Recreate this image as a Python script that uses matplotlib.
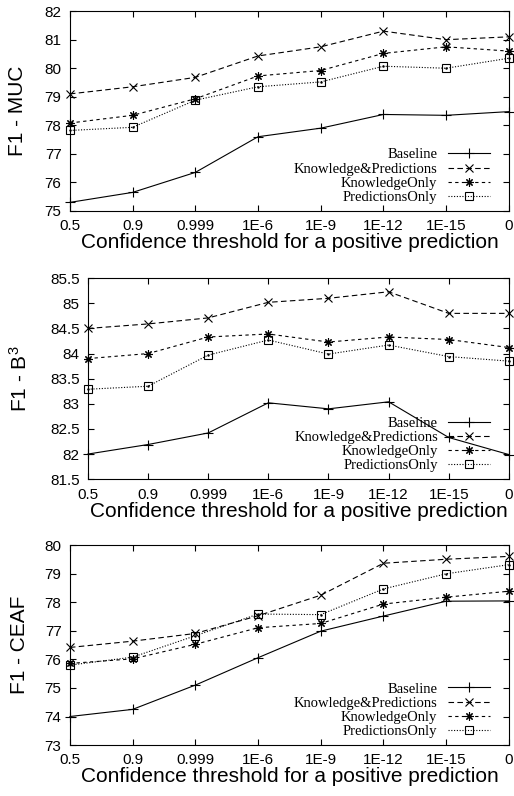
import numpy as np
import matplotlib
matplotlib.use("Agg")
import matplotlib.pyplot as plt
from matplotlib.ticker import FuncFormatter

plt.rcParams['font.family'] = 'Liberation Sans'
plt.rcParams['mathtext.default'] = 'regular'

thresholds = ['0.5', '0.9', '0.999', '1E-6', '1E-9', '1E-12', '1E-15', '0']
series_names = ['Baseline', 'Knowledge&Predictions', 'KnowledgeOnly', 'PredictionsOnly']

# MUC
muc_baseline = [75.3, 75.65, 76.35, 77.6, 77.9, 78.38, 78.35, 78.48]
muc_knowpred = [79.1, 79.35, 79.68, 80.43, 80.75, 81.3, 81.0, 81.1]
muc_knowonly = [78.08, 78.35, 78.93, 79.73, 79.92, 80.52, 80.75, 80.6]
muc_predonly = [77.82, 77.93, 78.88, 79.35, 79.52, 80.07, 80.0, 80.35]

# B3
b3_baseline = [82.0, 82.19, 82.42, 83.02, 82.9, 83.04, 82.33, 81.99]
b3_knowpred = [84.5, 84.59, 84.71, 85.02, 85.1, 85.23, 84.8, 84.8]
b3_knowonly = [83.9, 84.0, 84.33, 84.39, 84.23, 84.33, 84.28, 84.12]
b3_predonly = [83.29, 83.35, 83.97, 84.27, 83.99, 84.17, 83.94, 83.85]

# CEAF
ceaf_baseline = [74.0, 74.25, 75.1, 76.06, 76.99, 77.52, 78.04, 78.05]
ceaf_knowpred = [76.42, 76.64, 76.91, 77.53, 78.25, 79.37, 79.51, 79.61]
ceaf_knowonly = [75.86, 76.02, 76.53, 77.11, 77.26, 77.94, 78.18, 78.39]
ceaf_predonly = [75.8, 76.08, 76.83, 77.59, 77.57, 78.47, 79.0, 79.32]

panels = [
    ('F1 - MUC', [muc_baseline, muc_knowpred, muc_knowonly, muc_predonly],
     (75, 82), np.arange(75, 82.01, 1), [0.136, 0.735, 0.854, 0.251], -0.098),
    ('F1 - B$^3$', [b3_baseline, b3_knowpred, b3_knowonly, b3_predonly],
     (81.5, 85.5), np.arange(81.5, 85.51, 0.5), [0.171, 0.398, 0.819, 0.2525], -0.135),
    ('F1 - CEAF', [ceaf_baseline, ceaf_knowpred, ceaf_knowonly, ceaf_predonly],
     (73, 80), np.arange(73, 80.01, 1), [0.136, 0.064, 0.854, 0.251], -0.093),
]

styles = [
    dict(linestyle='-', marker='+', markersize=7),
    dict(linestyle=(0, (5, 3)), marker='x', markersize=6),
    dict(linestyle=(0, (3, 3)), marker=(8, 2, 0), markersize=6),
    dict(linestyle=(0, (1, 1.5)), marker='s', markersize=6, markerfacecolor='none'),
]

fig = plt.figure(figsize=(5.14, 7.96), dpi=100)
x = np.arange(len(thresholds))

for ylabel, data, ylim, yticks, rect, labx in panels:
    ax = fig.add_axes(rect)
    for name, vals, st in zip(series_names, data, styles):
        ax.plot(x, vals, color='black', linewidth=0.8, markeredgewidth=0.8,
                clip_on=False, label=name, **st)
    # centre dot of the gnuplot square markers
    ax.plot(x, data[3], linestyle='none', marker='.', markersize=1.5,
            color='black', clip_on=False)
    ax.set_xlim(0, len(thresholds) - 1)
    ax.set_ylim(*ylim)
    ax.set_xticks(x)
    ax.set_xticklabels(thresholds)
    ax.set_yticks(yticks)
    ax.yaxis.set_major_formatter(FuncFormatter(lambda v, p: ('%g' % v)))
    ax.tick_params(direction='in', top=True, right=True, length=4, width=0.8,
                   labelsize=11, pad=6)
    for s in ax.spines.values():
        s.set_linewidth(0.8)
    ax.set_xlabel('Confidence threshold for a positive prediction', fontsize=15,
                  labelpad=0)
    ax.set_ylabel(ylabel, fontsize=15)
    ax.yaxis.set_label_coords(labx, 0.5)
    ax.legend(loc='lower right', frameon=False, markerfirst=False,
              prop={'family': 'Liberation Serif', 'size': 10.5},
              handlelength=2.9, handletextpad=0.7, labelspacing=0.07,
              borderaxespad=0.0, bbox_to_anchor=(0.97, 0.005))
    leg = ax.get_legend()
    # right-align the text column
    vp = leg._legend_box._children[1]._children[0]
    vp.align = 'right'

fig.savefig('out.png', dpi=100)
